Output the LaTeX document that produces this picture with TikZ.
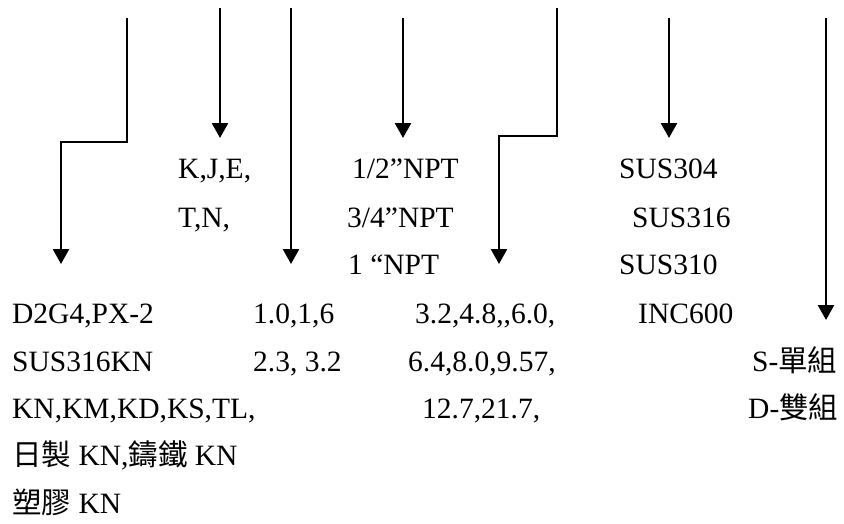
\documentclass[tikz,border=0pt]{standalone}
\usepackage{fontspec}
\setmainfont{Liberation Serif}
\newfontfamily\cjk{Noto Sans CJK TC}
\usetikzlibrary{arrows.meta}
\begin{document}
\begin{tikzpicture}[x=1pt,y=-1pt,
  arr/.style={line width=2.6pt,-{Triangle[width=16pt,length=15pt]}},
  lbl/.style={anchor=base west, inner sep=0pt, font=\fontsize{29.5}{35}\selectfont}]
\useasboundingbox (0,0) rectangle (844,523);
% arrow coordinates
\coordinate (a1s) at (127,18);  \coordinate (a1b) at (127,142);
\coordinate (a1c) at (61,142);  \coordinate (a1e) at (61,264);
\coordinate (a2s) at (220,8);   \coordinate (a2e) at (220,138);
\coordinate (a3s) at (291,8);   \coordinate (a3e) at (291,264);
\coordinate (a4s) at (403,18);  \coordinate (a4e) at (403,138);
\coordinate (a5s) at (557,8);   \coordinate (a5b) at (557,136);
\coordinate (a5c) at (499,136); \coordinate (a5e) at (499,264);
\coordinate (a6s) at (669,18);  \coordinate (a6e) at (669,138);
\coordinate (a7s) at (826,18);  \coordinate (a7e) at (826,320);
\draw[arr] (a1s) -- (a1b) -- (a1c) -- (a1e);
\draw[arr] (a2s) -- (a2e);
\draw[arr] (a3s) -- (a3e);
\draw[arr] (a4s) -- (a4e);
\draw[arr] (a5s) -- (a5b) -- (a5c) -- (a5e);
\draw[arr] (a6s) -- (a6e);
\draw[arr] (a7s) -- (a7e);
% upper labels
\node[lbl] (kje) at (178,178) {K,J,E,};
\node[lbl] (tn) at (178,227) {T,N,};
\node[lbl] (npt1) at (352,178) {1/2”NPT};
\node[lbl] (npt2) at (347,227) {3/4”NPT};
\node[lbl] (npt3) at (348,274) {1 “NPT};
\node[lbl] (sus304) at (619,178) {SUS304};
\node[lbl] (sus316) at (632,227) {SUS316};
\node[lbl] (sus310) at (619,274) {SUS310};
% lower labels
\node[lbl] (t1) at (12,323) {D2G4,PX-2};
\node[lbl] (t2) at (12,371) {SUS316KN};
\node[lbl] (t3) at (12,418) {KN,KM,KD,KS,TL,};
\node[lbl] (t4) at (12,465) {{\cjk 日製} KN,{\cjk 鑄鐵} KN};
\node[lbl] (t5) at (12,513) {{\cjk 塑膠} KN};
\node[lbl] (d1) at (253,323) {1.0,1,6};
\node[lbl] (d2) at (253,371) {2.3, 3.2};
\node[lbl] (l1) at (415,323) {3.2,4.8,{},6.0,};
\node[lbl] (l2) at (408,371) {6.4,8.0,9.57,};
\node[lbl] (l3) at (422,418) {12.7,21.7,};
\node[lbl] (inc) at (638,323) {INC600};
\node[lbl] (s1) at (752,371) {S-{\cjk 單組}};
\node[lbl] (s2) at (748,418) {D-{\cjk 雙組}};
\end{tikzpicture}
\end{document}
